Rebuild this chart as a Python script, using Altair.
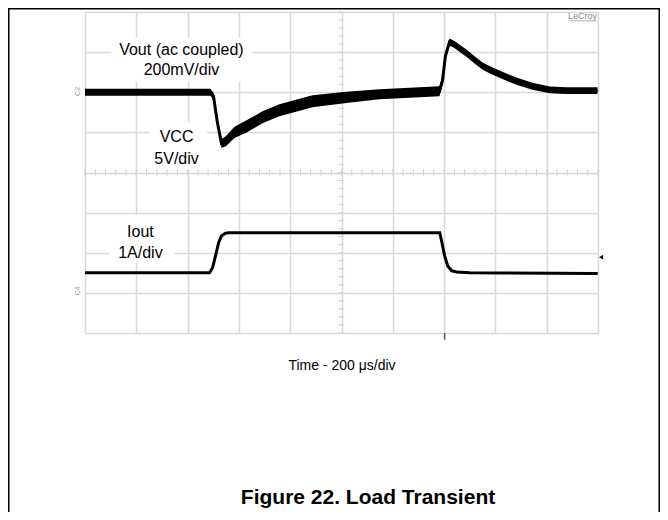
import altair as alt
import pandas as pd

# ---- Vout (ac coupled), time in us, centre and noise half-width in mV ----
vout_t = [0, 489, 501, 516, 532, 548, 583, 630, 692, 758, 887, 1019, 1148, 1265, 1382,
          1394, 1405, 1421, 1440, 1465, 1487, 1520, 1550, 1585, 1616, 1650, 1682, 1744, 1812, 1877, 1998]
vout_mv = [0, 0, -20, -150, -255, -245, -200, -170, -125, -90, -45, -25, -10, -2, 5,
           60, 180, 250, 238, 215, 195, 160, 130, 108, 90, 72, 55, 30, 12, 8, 8]
vout_noise = [17, 17, 17, 18, 22, 25, 28, 30, 30, 30, 30, 28, 25, 25, 25,
              22, 20, 18, 18, 18, 18, 18, 18, 18, 18, 18, 18, 17, 17, 17, 17]

# ---- Iout, time in us, current in A ----
iout_t = [0, 485, 497, 509, 521, 532, 548, 560, 1383, 1390, 1402, 1414, 1430, 1450, 1500, 1999]
iout_a = [0.5, 0.5, 0.62, 0.93, 1.25, 1.42, 1.49, 1.5, 1.5, 1.3, 0.93, 0.67, 0.55, 0.52, 0.5, 0.48]

# channel reference levels (divisions) and scales
VOUT_REF, VOUT_PER_DIV = 6.0, 200.0
IOUT_REF, IOUT_PER_DIV = 1.0, 1.0

# annotation labels (time us, divisions)
label_text = ["Vout (ac coupled)", "200mV/div", "VCC", "5V/div", "Iout", "1A/div"]
label_t = [376, 376, 357, 357, 216, 216]
label_div = [7.05, 6.55, 4.88, 4.33, 2.51, 1.99]

# white boxes behind labels
box_t1 = [103, 251, 96]
box_t2 = [649, 474, 349]
box_d1 = [6.27, 4.06, 1.77]
box_d2 = [7.35, 5.26, 2.94]

FIG_TITLE = "Figure 22. Load Transient"

FONT = "Liberation Sans"
GRID = "#d9d9d9"

vdf = pd.DataFrame({"t": vout_t, "mv": vout_mv, "n": vout_noise})
vdf["c"] = VOUT_REF + vdf["mv"] / VOUT_PER_DIV
vdf["lo"] = VOUT_REF + (vdf["mv"] - vdf["n"]) / VOUT_PER_DIV
vdf["hi"] = VOUT_REF + (vdf["mv"] + vdf["n"]) / VOUT_PER_DIV
idf = pd.DataFrame({"t": iout_t, "a": iout_a})
idf["d"] = IOUT_REF + idf["a"] / IOUT_PER_DIV
ldf = pd.DataFrame({"txt": label_text, "t": label_t, "d": label_div})
bdf = pd.DataFrame({"t1": box_t1, "t2": box_t2, "d1": box_d1, "d2": box_d2})

xs = alt.Scale(domain=[0, 2000], nice=False, zero=False)
ys = alt.Scale(domain=[0, 8], nice=False, zero=False)
xaxis = alt.Axis(values=list(range(0, 2001, 200)), grid=True, labels=False, ticks=False,
                 domain=False, title="Time - 200 μs/div", titleFontSize=14,
                 titleFontWeight="normal", titleColor="black", titleFont=FONT,
                 titlePadding=25, gridColor=GRID, gridWidth=1.5)
yaxis = alt.Axis(values=list(range(0, 9)), grid=True, labels=False, ticks=False,
                 domain=False, title=None, gridColor=GRID, gridWidth=1.5)


def X(f):
    return alt.X(f, type="quantitative", scale=xs, axis=xaxis)


def Y(f):
    return alt.Y(f, type="quantitative", scale=ys, axis=yaxis)


boxes = alt.Chart(bdf).mark_rect(color="white").encode(
    x=X("t1"), x2="t2", y=Y("d1"), y2="d2")

# centre graticule minor ticks
minor_y = [i * 0.2 for i in range(41)]
minor_x = [i * 40 for i in range(51)]
vt = pd.DataFrame({"d": minor_y, "a": 988, "b": 1012})
ht = pd.DataFrame({"t": minor_x, "a": 3.92, "b": 4.08})
vticks = alt.Chart(vt).mark_rule(color="#d0d0d0", strokeWidth=1).encode(
    x=X("a"), x2="b", y=Y("d"))
hticks = alt.Chart(ht).mark_rule(color="#d0d0d0", strokeWidth=1).encode(
    x=X("t"), y=Y("a"), y2="b")

band = alt.Chart(vdf).mark_area(color="black", opacity=1).encode(
    x=X("t"), y=Y("lo"), y2="hi")
vline = alt.Chart(vdf).mark_line(color="black", strokeWidth=3).encode(
    x=X("t"), y=Y("c"))
iline = alt.Chart(idf).mark_line(color="black", strokeWidth=3).encode(
    x=X("t"), y=Y("d"))

labels = alt.Chart(ldf).mark_text(font=FONT, fontSize=16, color="black",
                                  baseline="middle", align="center").encode(
    x=X("t"), y=Y("d"), text="txt")

# scope decorations
mdf = pd.DataFrame({"t": [-29, -29], "d": [6.02, 1.05], "txt": ["C2", "C4"]})
markers = alt.Chart(mdf).mark_text(font=FONT, fontSize=7, color="#999999", angle=270,
                                   baseline="middle", align="center").encode(
    x=X("t"), y=Y("d"), text="txt")
lc = alt.Chart(pd.DataFrame({"t": [1940], "d": [7.9], "txt": ["LeCroy"]})).mark_text(
    font=FONT, fontSize=9, color="#8a8a8a", baseline="middle", align="center").encode(
    x=X("t"), y=Y("d"), text="txt")
lcu = alt.Chart(pd.DataFrame({"a": [1885], "b": [1995], "d": [7.78]})).mark_rule(
    color="#b0b0b0", strokeWidth=1).encode(x=X("a"), x2="b", y=Y("d"))
trig = alt.Chart(pd.DataFrame({"t": [2012], "d": [1.89]})).mark_point(
    shape="triangle-left", filled=True, size=22, color="black", opacity=1).encode(
    x=X("t"), y=Y("d"))
ttick = alt.Chart(pd.DataFrame({"t": [1402], "a": [0], "b": [-0.17]})).mark_rule(
    color="#555555", strokeWidth=1.5).encode(x=X("t"), y=Y("a"), y2="b")

# figure caption
caption = alt.Chart(pd.DataFrame({"txt": [FIG_TITLE]})).mark_text(
    font=FONT, fontSize=21, fontWeight="bold", color="black",
    baseline="middle", align="center").encode(
    x=alt.value(283), y=alt.value(486), text="txt")

# figure frame (kept inside the drawing surface)
frame = alt.Chart(pd.DataFrame({"t": [0]})).mark_rect(
    fill=None, stroke="black", strokeWidth=1.5).encode(
    x=alt.value(-76.25), x2=alt.value(574.25), y=alt.value(-3.25), y2=alt.value(530))

chart = alt.layer(boxes, vticks, hticks, band, vline, iline, labels, markers, lc, lcu,
                  trig, ttick, caption, frame).properties(
    width=513, height=321,
    autosize=alt.AutoSizeParams(type="none"),
    padding={"left": 77, "top": 4, "right": 62, "bottom": 179},
).configure_view(stroke="#cccccc", strokeWidth=1.5).configure(background="white")

chart.save("out.html", embed_options={"renderer": "svg", "actions": False})
